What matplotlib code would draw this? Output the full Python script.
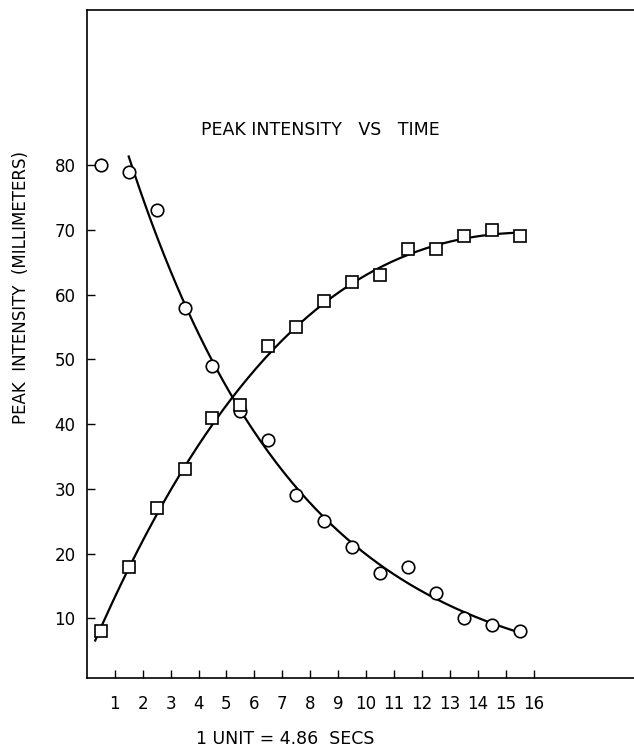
import numpy as np
import matplotlib.pyplot as plt

# time units (1 unit = 4.86 s)
t = [0.5, 1.5, 2.5, 3.5, 4.5, 5.5, 6.5, 7.5, 8.5, 9.5, 10.5, 11.5, 12.5, 13.5, 14.5, 15.5]
circles = [80, 79, 73, 58, 49, 42, 37.5, 29, 25, 21, 17, 18, 14, 10, 9, 8]
squares = [8, 18, 27, 33, 41, 43, 52, 55, 59, 62, 63, 67, 67, 69, 70, 69]
xticks = list(range(1, 17))
yticks = [10, 20, 30, 40, 50, 60, 70, 80]

fig = plt.figure(figsize=(6.34, 7.5), dpi=100)
ax = fig.add_axes([0.137, 0.096, 0.863, 0.891])

# smooth fitted curves through the points
tc = np.array(t[1:])
pc = np.polyfit(tc, np.log(circles[1:]), 2)
xc = np.linspace(1.5, 15.5, 200)
ax.plot(xc, np.exp(np.polyval(pc, xc)), color='black', lw=1.6)

ps = np.polyfit(t, squares, 3)
xs = np.linspace(0.3, 15.4, 200)
ax.plot(xs, np.polyval(ps, xs), color='black', lw=1.6)

ax.plot(t, circles, 'o', mfc='white', mec='black', ms=9, mew=1.2)
ax.plot(t, squares, 's', mfc='white', mec='black', ms=8, mew=1.2)

ax.set_xlim(0, 19.6)
ax.set_ylim(0.8, 104)
ax.set_xticks(xticks)
ax.set_yticks(yticks)
ax.tick_params(direction='in', length=6, width=1, labelsize=12, pad=8)
ax.tick_params(axis='x', pad=12)
ax.spines['right'].set_visible(False)
for s in ['left', 'bottom', 'top']:
    ax.spines[s].set_linewidth(1.2)

ax.text(8.35, 85.5, "PEAK INTENSITY   VS   TIME", ha='center', va='center', fontsize=12.5)
fig.text(0.033, 0.617, "PEAK  INTENSITY  (MILLIMETERS)", rotation=90, ha='center', va='center', fontsize=12)
fig.text(0.45, 0.014, "1 UNIT = 4.86  SECS", ha='center', va='center', fontsize=12.5)

fig.savefig('out.png', dpi=100)
